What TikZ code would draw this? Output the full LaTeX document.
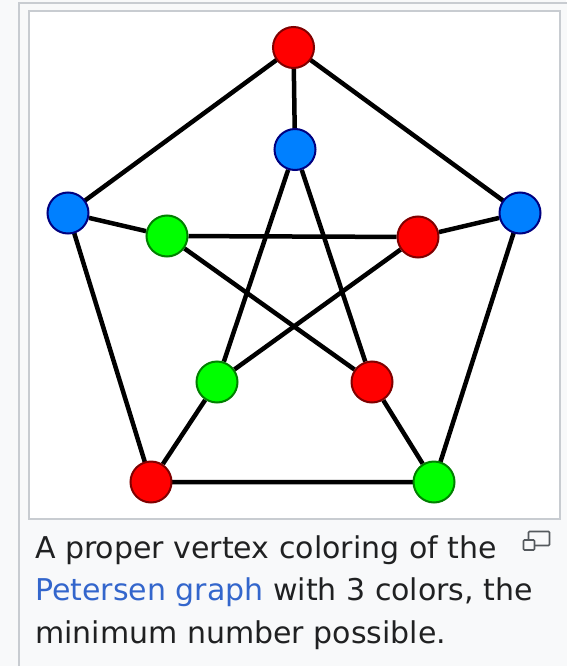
\documentclass[tikz,border=0pt]{standalone}
\usepackage{fontspec}
\setmainfont{DejaVu Sans}
\definecolor{pagebg}{HTML}{F8F9FA}
\definecolor{frame}{HTML}{C8CCD1}
\definecolor{txt}{HTML}{202122}
\definecolor{link}{HTML}{3366CC}
\definecolor{icon}{HTML}{54595D}
\definecolor{vred}{HTML}{FF0000}
\definecolor{vredb}{HTML}{800000}
\definecolor{vblue}{HTML}{0080FF}
\definecolor{vblueb}{HTML}{000080}
\definecolor{vgreen}{HTML}{00FF00}
\definecolor{vgreenb}{HTML}{008000}
\pgfdeclarelayer{bglayer}
\pgfdeclarelayer{edgelayer}
\pgfsetlayers{bglayer,edgelayer,main}
\tikzset{
  vtx/.style={circle, line width=2pt, minimum size=41pt, inner sep=0pt},
  rv/.style={vtx, fill=vred, draw=vredb},
  bv/.style={vtx, fill=vblue, draw=vblueb},
  gv/.style={vtx, fill=vgreen, draw=vgreenb},
  edge/.style={line width=4.5pt, black},
  captext/.style={anchor=base west, inner sep=0pt, text=txt, font=\fontsize{30}{42}\selectfont},
}
\begin{document}
\begin{tikzpicture}[x=1pt,y=-1pt]
\useasboundingbox (0,0) rectangle (566,666);
% frames
\begin{pgfonlayer}{bglayer}
\fill[pagebg] (0,0) rectangle (566,666);
\draw[frame, line width=2pt, fill=pagebg] (19,3) rectangle (600,700);
\draw[frame, line width=2pt, fill=white] (29.3,11.3) rectangle (559.5,519);
\end{pgfonlayer}
% vertices
\node[rv] (o1) at (293.5,47.5) {};
\node[bv] (o2) at (520,213) {};
\node[gv] (o3) at (434,482) {};
\node[rv] (o4) at (151,482) {};
\node[bv] (o5) at (68,213) {};
\node[bv] (i1) at (295,149.5) {};
\node[rv] (i2) at (418,237) {};
\node[rv] (i3) at (372,382) {};
\node[gv] (i4) at (217,382) {};
\node[gv] (i5) at (167,236) {};
% edges
\begin{pgfonlayer}{edgelayer}
\draw[edge] (o1.center) -- (o2.center) -- (o3.center) -- (o4.center) -- (o5.center) -- (o1.center);
\draw[edge] (o1) -- (i1);
\draw[edge] (o2) -- (i2);
\draw[edge] (o3) -- (i3);
\draw[edge] (o4) -- (i4);
\draw[edge] (o5) -- (i5);
\draw[edge] (i1) -- (i3);
\draw[edge] (i1) -- (i4);
\draw[edge] (i2) -- (i4);
\draw[edge] (i2) -- (i5);
\draw[edge] (i3) -- (i5);
\end{pgfonlayer}
% caption
\node[captext] (c1) at (35,558) {A proper vertex coloring of the};
\node[captext] (c2) at (35,600) {\textcolor{link}{Petersen graph} with 3 colors, the};
\node[captext] (c3) at (35,643) {minimum number possible.};
% magnify icon
\draw[icon, line width=1.6pt, rounded corners=1pt] (528.5,531.5) rectangle (549.5,545.5);
\draw[icon, line width=1.6pt, rounded corners=1pt, fill=pagebg] (523.5,540) rectangle (534.5,550);
\end{tikzpicture}
\end{document}
